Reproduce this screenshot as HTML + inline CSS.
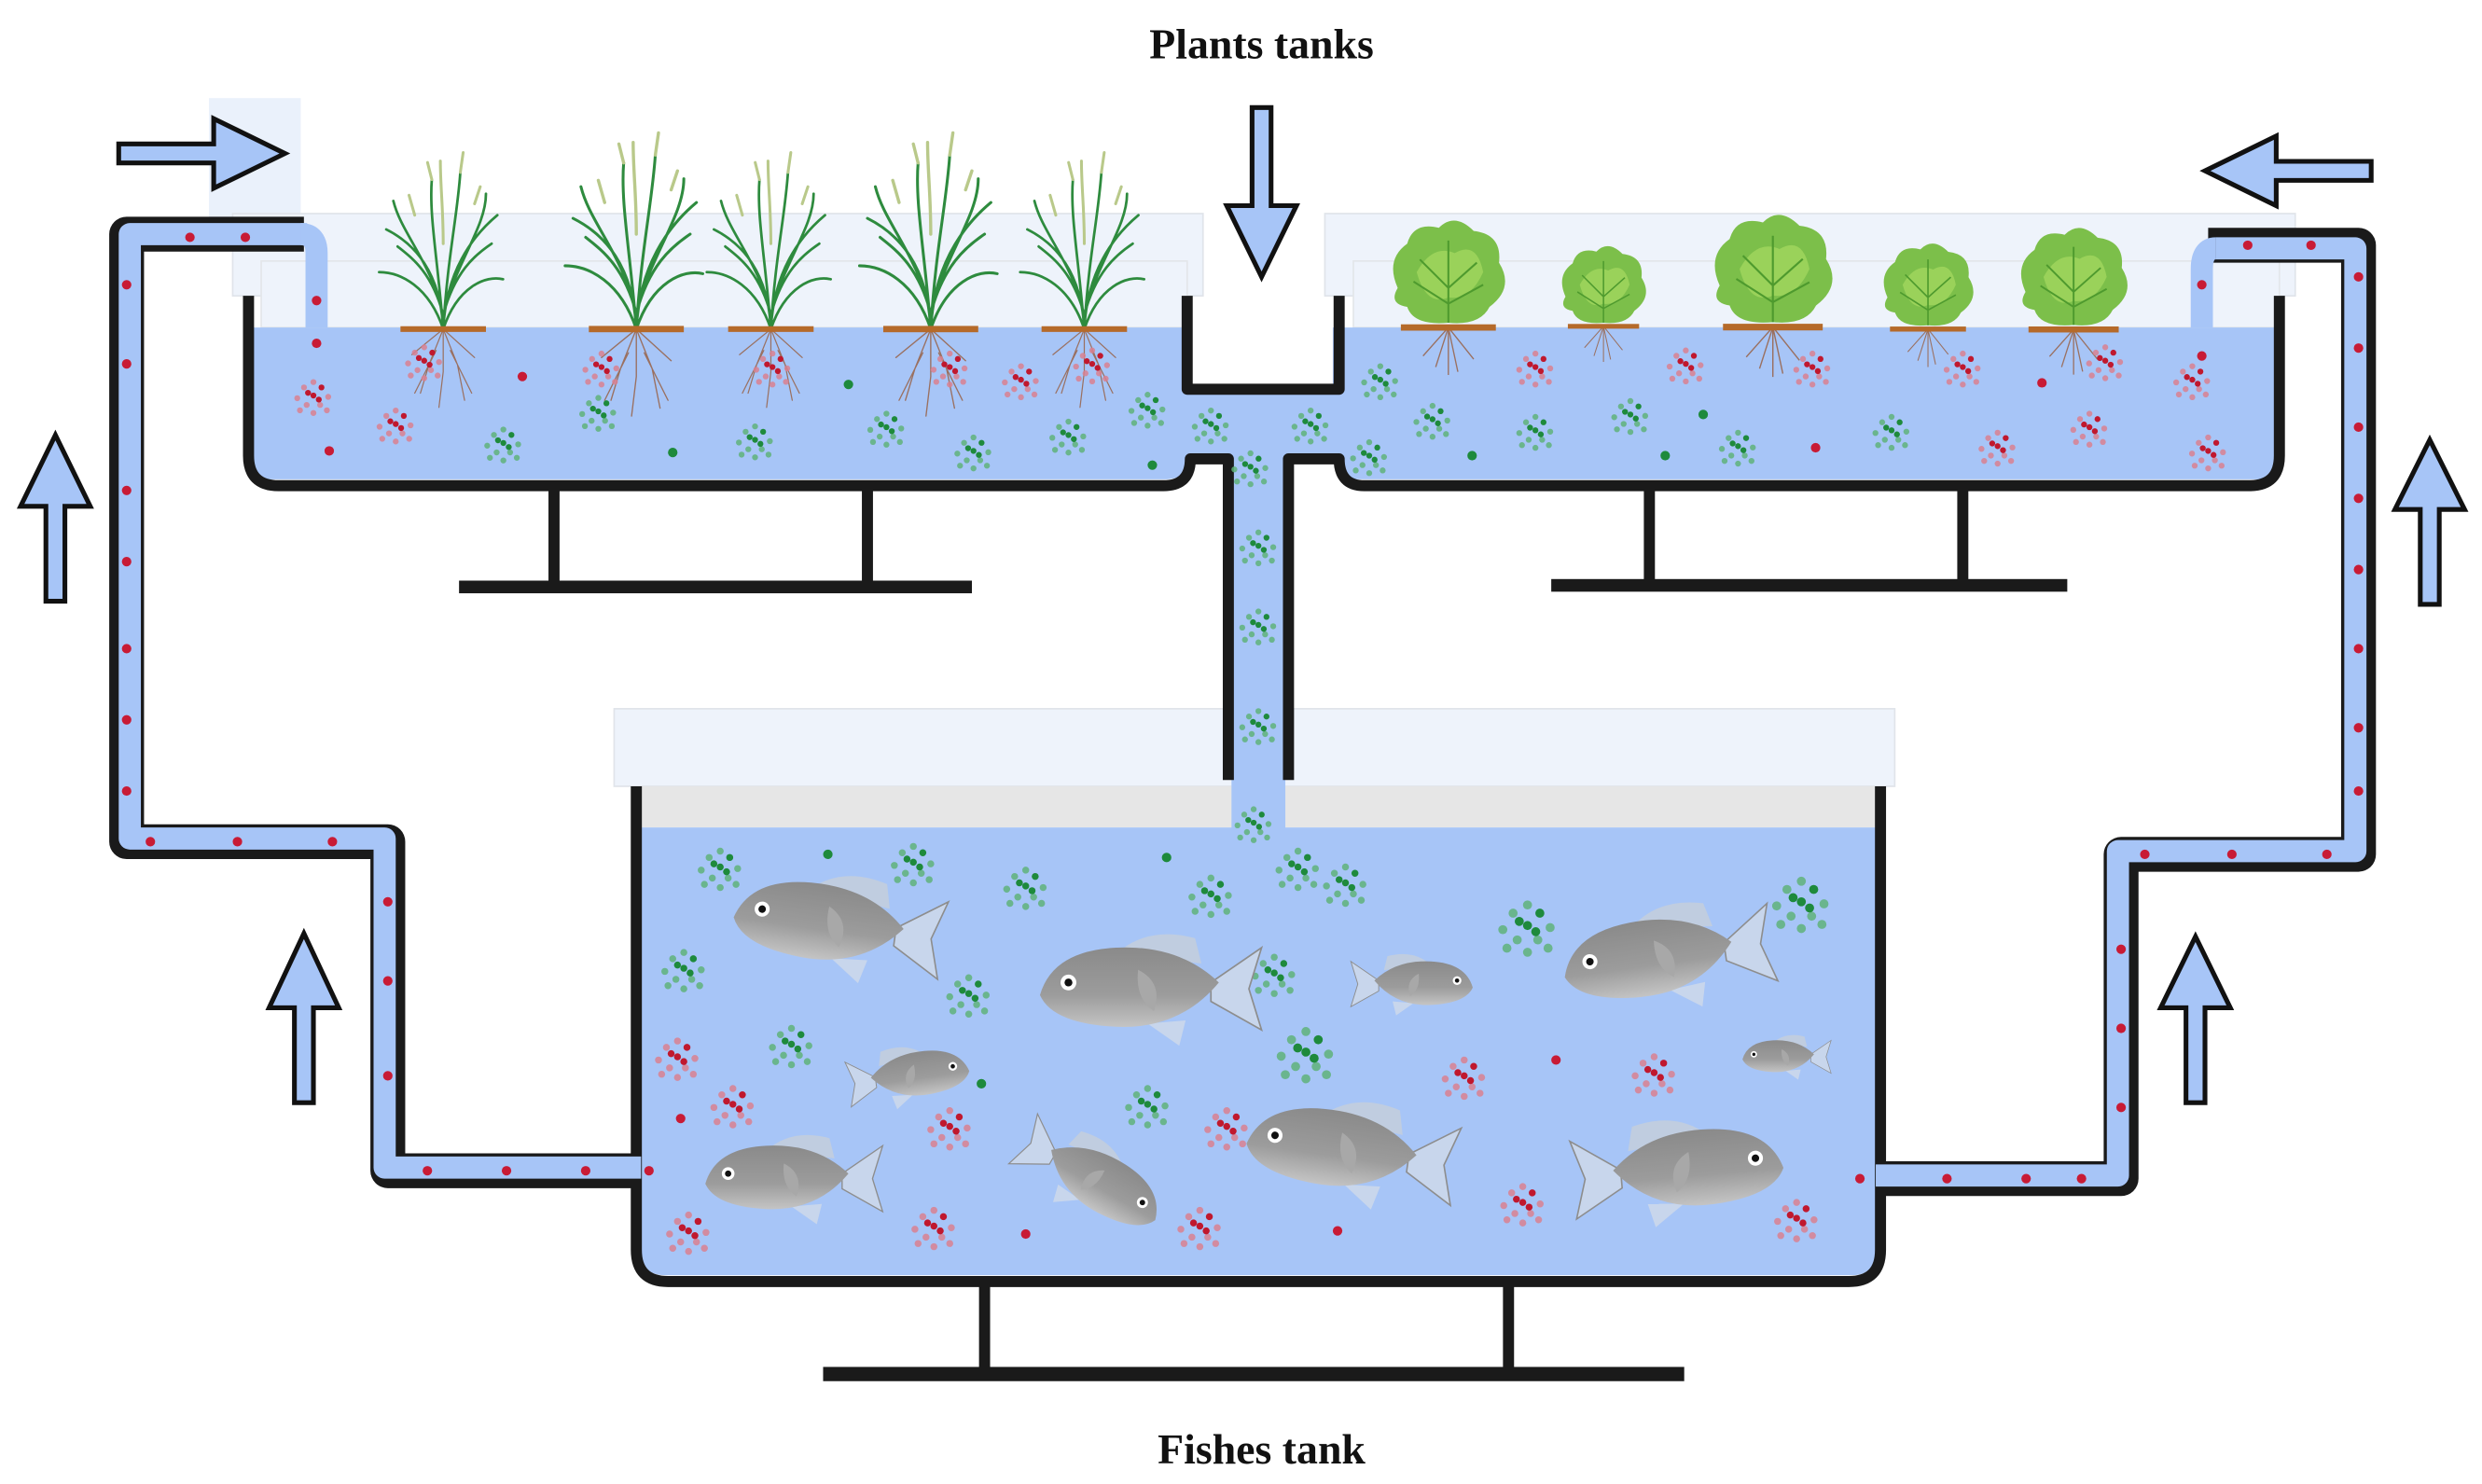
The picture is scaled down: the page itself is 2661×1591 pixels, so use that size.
<!DOCTYPE html>
<html><head><meta charset="utf-8"><style>
html,body{margin:0;padding:0;background:#fff;}
svg{display:block;}
</style></head><body>
<svg id="s" width="2661" height="1591" viewBox="0 0 1568 938" preserveAspectRatio="none" xmlns="http://www.w3.org/2000/svg">
<defs>
<linearGradient id="fg" x1="0" y1="0" x2="0" y2="1"><stop offset="0" stop-color="#8a8a8a"/><stop offset="0.6" stop-color="#9c9c9c"/><stop offset="1" stop-color="#c4c4c4"/></linearGradient>
<g id="fish">
<path d="M40,-4 L72,-26 L64,0 L72,26 L40,8 Z" fill="#c8d6ec" stroke="#8d8d8d" stroke-width="1"/>
<path d="M-20,-22 Q0,-40 30,-32 L34,-16 Z" fill="#c0cde0"/>
<path d="M0,22 L20,36 L24,20 Z" fill="#c8d6ec"/>
<path d="M-68,4 Q-60,-24 -20,-26 Q20,-28 45,-4 Q20,26 -20,24 Q-60,22 -68,4 Z" fill="url(#fg)"/>
<path d="M-6,-12 Q10,-4 4,14 Q-8,6 -6,-12 Z" fill="#a8a8a8"/>
<circle cx="-50" cy="-4" r="5" fill="#fff"/><circle cx="-50" cy="-4" r="2.5" fill="#111"/>
</g>
<g id="grass" fill="none" stroke-linecap="round">
<path d="M0,0 C-2,-40 -20,-60 -40,-70 M0,0 C2,-40 20,-65 38,-80 M0,0 C-4,-50 -10,-80 -8,-105 M0,0 C3,-50 10,-80 12,-110 M0,0 C-10,-30 -30,-40 -45,-40 M0,0 C10,-30 30,-38 42,-35 M-2,-20 C-15,-55 -30,-70 -35,-90 M2,-20 C15,-55 30,-75 30,-95 M0,-10 C-8,-40 -22,-50 -32,-58 M0,-10 C8,-40 22,-52 34,-60" stroke="#2e8b3e" stroke-width="1.8"/>
<path d="M-8,-105 l-3,-12 M12,-110 l2,-14 M0,-60 C0,-85 -2,-100 -2,-118 M-20,-80 l-4,-14 M22,-88 l4,-12" stroke="#b9c98a" stroke-width="2"/>
<path d="M0,0 l-10,25 l-6,20 M0,0 l10,25 l5,25 M0,0 l0,30 l-3,25 M0,0 l-22,18 M0,0 l22,20 M-5,15 l-15,30 M5,15 l15,30" stroke="#9a7060" stroke-width="0.8"/>
<rect x="-30" y="-2" width="60" height="4" fill="#b56a2a" stroke="none"/>
</g>
<g id="lettuce">
<path d="M0,35 l-8,25 M0,35 l6,28 M0,35 l0,30 M0,35 l-16,18 M0,35 l16,20" stroke="#9a7060" stroke-width="0.8" fill="none"/>
<rect x="-30" y="33" width="60" height="4" fill="#b56a2a"/>
<path d="M-32,10 Q-40,-8 -26,-18 Q-22,-32 -6,-28 Q4,-38 16,-26 Q34,-24 32,-6 Q42,10 26,22 Q20,34 0,32 Q-22,34 -26,22 Q-38,20 -32,10 Z" fill="#7cbf4a"/>
<path d="M-20,0 Q-10,-18 4,-12 Q18,-20 22,0 Q14,18 0,16 Q-14,22 -20,0 Z" fill="#9ad25a"/>
<path d="M0,32 L0,-20 M0,10 L-18,-8 M0,10 L18,-6 M0,20 L-22,6 M0,20 L22,8" stroke="#4e9a2e" stroke-width="1.2" fill="none"/>
</g>
</defs>

<text x="797" y="37" text-anchor="middle" font-family="Liberation Serif, serif" font-size="27" font-weight="bold" fill="#111">Plants tanks</text>
<text x="797" y="925" text-anchor="middle" font-family="Liberation Serif, serif" font-size="27" font-weight="bold" fill="#111">Fishes tank</text>

<rect x="132" y="62" width="58" height="80" fill="#eaf1fb"/>

<rect x="147" y="135" width="613" height="52" fill="#eef3fb" stroke="#e0e4ea"/>
<rect x="165" y="165" width="585" height="42" fill="#eef3fb" stroke="#e3e6ea"/>
<rect x="837" y="135" width="613" height="52" fill="#eef3fb" stroke="#e0e4ea"/>
<rect x="855" y="165" width="585" height="42" fill="#eef3fb" stroke="#e3e6ea"/>

<!-- fish tank lid (behind pipe) -->
<rect x="388" y="448" width="809" height="49" fill="#eef3fb" stroke="#e0e4ea"/>
<rect x="405" y="497" width="780" height="26" fill="#e6e6e6"/>

<path d="M158,207 H748 V248 H842 V207 H1438 V290 Q1438,303 1425,303 H860 Q845,303 845,292 H812 V525 H778 V292 H752 Q750,303 735,303 H172 Q158,303 158,290 Z" fill="#a7c5f7"/>

<g fill="none" stroke="#1a1a1a" stroke-width="7" stroke-linejoin="round">
<path d="M157,187 V288 Q157,307 176,307 H735 Q752,307 752,290 H776 V493"/>
<path d="M750,187 V246 H846 V187"/>
<path d="M1440,187 V288 Q1440,307 1421,307 H862 Q846,307 846,290 H814 V493"/>
</g>
<g stroke="#1a1a1a" stroke-width="7" fill="none">
<path d="M350,307 V370 M548,307 V370 M1042,307 V370 M1240,307 V370 M622,808 V866 M953,808 V866"/>
</g>
<rect x="290" y="367" width="324" height="8" fill="#1a1a1a"/>
<rect x="980" y="366" width="326" height="8" fill="#1a1a1a"/>
<rect x="520" y="864" width="544" height="9" fill="#1a1a1a"/>

<path d="M405,523 H1185 V790 Q1185,806 1170,806 H420 Q405,806 405,790 Z" fill="#a7c5f7"/>
<path d="M402,497 V790 Q402,810 422,810 H1168 Q1188,810 1188,790 V497" fill="none" stroke="#1a1a1a" stroke-width="7"/>

<g fill="none" stroke-linejoin="round">
<path d="M192,148 H80 V532 H245 V740 H405" stroke="#1a1a1a" stroke-width="22"/>
<path d="M194,148 H82 V530 H243 V738 H405" stroke="#a7c5f7" stroke-width="14"/>
<path d="M190,148 Q200,148 200,160 V207" stroke="#a7c5f7" stroke-width="14"/>
<path d="M1185,745 H1340 V540 H1490 V155 H1395" stroke="#1a1a1a" stroke-width="22"/>
<path d="M1185,743 H1338 V538 H1488 V157 H1400" stroke="#a7c5f7" stroke-width="14"/>
<path d="M1400,157 Q1391,157 1391,170 V207" stroke="#a7c5f7" stroke-width="14"/>
</g>

<g fill="#a7c5f7" stroke="#111" stroke-width="3" stroke-linejoin="miter">
<path d="M75,91 H135 V75 L180,97 L135,119 V103 H75 Z"/>
<path d="M1498,102 H1438 V86 L1393,108 L1438,130 V114 H1498 Z"/>
<path d="M791,68 V130 H775 L797,175 L819,130 H803 V68 Z"/>
<path d="M29,380 V320 H13 L35,275 L57,320 H41 V380 Z"/>
<path d="M186,697 V637 H170 L192,590 L214,637 H198 V697 Z"/>
<path d="M1529,382 V322 H1513 L1535,278 L1557,322 H1541 V382 Z"/>
<path d="M1381,697 V637 H1365 L1387,592 L1409,637 H1393 V697 Z"/>
</g>

<g id="dyn"></g>
</svg>
<script>
(function(){
var NS="http://www.w3.org/2000/svg",g=document.getElementById('dyn');
function el(n,a){var e=document.createElementNS(NS,n);for(var k in a)e.setAttribute(k,a[k]);g.appendChild(e);return e;}
function cluster(x,y,c,s){s=s||1;
 var pts=[[0,-10],[-7,-6],[6,-6],[-12,2],[0,0],[11,1],[-5,7],[5,7],[-10,11],[0,13],[10,11],[-4,-2],[4,3]];
 pts.forEach(function(p,i){var dark=(i==4||i==11||i==12||i==2);
  el('circle',{cx:x+p[0]*s,cy:y+p[1]*s,r:2.2*s,fill:c=='r'?(dark?'#c0182e':'#d98090'):(dark?'#1e8a3c':'#5fb27a'),opacity:dark?1:0.85});});}
function dot(x,y,c){el('circle',{cx:x,cy:y,r:3,fill:c=='r'?'#c81b35':'#1e8a3c'});}
[[155,150],[120,150],[200,190],[200,217],[80,180],[80,230],[80,310],[80,355],[80,410],[80,455],[80,500],[95,532],[150,532],[210,532],[245,570],[245,620],[245,680],[270,740],[320,740],[370,740],[410,740],
 [1175,745],[1230,745],[1280,745],[1315,745],[1340,700],[1340,650],[1340,600],[1355,540],[1410,540],[1470,540],[1490,500],[1490,460],[1490,410],[1490,360],[1490,315],[1490,270],[1490,220],[1490,175],[1460,155],[1420,155],[1391,180],[1391,225]].forEach(function(p){dot(p[0],p[1],'r');});
[280,402,487,588,685].forEach(function(x,i){el('use',{href:'#grass',transform:'translate('+x+',208) scale('+(i==1||i==3?1:0.9)+')'});});
[[915,172,1],[1013,180,0.75],[1120,170,1.05],[1218,180,0.8],[1310,175,0.95]].forEach(function(p){el('use',{href:'#lettuce',transform:'translate('+p[0]+','+(p[1])+') scale('+p[2]+')'})});
[[198,250,'r'],[250,268,'r'],[268,228,'r'],[380,232,'r'],[488,232,'r'],[600,232,'r'],[645,240,'r'],[690,230,'r'],
 [318,280,'g'],[378,260,'g'],[477,278,'g'],[560,270,'g'],[615,285,'g'],[675,275,'g'],[725,258,'g'],[765,268,'g'],[790,295,'g'],[828,268,'g'],[795,345,'g'],[795,395,'g'],[795,458,'g'],[792,520,'g'],
 [872,240,'g'],[905,265,'g'],[970,272,'g'],[1030,262,'g'],[1098,282,'g'],[1195,272,'g'],[865,288,'g'],
 [970,232,'r'],[1065,230,'r'],[1145,232,'r'],[1240,232,'r'],[1330,228,'r'],[1385,240,'r'],[1262,282,'r'],[1320,270,'r'],[1395,285,'r']].forEach(function(c){cluster(c[0],c[1],c[2],0.85);});
[[330,238,'r'],[208,285,'r'],[536,243,'g'],[425,286,'g'],[728,294,'g'],[1076,262,'g'],[930,288,'g'],[1052,288,'g'],[1147,283,'r'],[1290,242,'r']].forEach(function(d){dot(d[0],d[1],d[2]);});
[[455,548,'g'],[577,545,'g'],[648,560,'g'],[765,565,'g'],[820,548,'g'],[850,558,'g'],[432,612,'g'],[612,628,'g'],[500,660,'g'],[725,698,'g'],[805,615,'g'],[825,665,'g'],[965,585,'g'],[1138,570,'g'],
 [428,668,'r'],[463,698,'r'],[600,712,'r'],[775,712,'r'],[925,680,'r'],[1045,678,'r'],[435,778,'r'],[590,775,'r'],[758,775,'r'],[962,760,'r'],[1135,770,'r']].forEach(function(c){cluster(c[0],c[1],c[2],c[2]=='g'&&(c[0]==965||c[0]==1138||c[0]==825)?1.3:1);});
[[523,540,'g'],[737,542,'g'],[620,685,'g'],[983,670,'r'],[430,707,'r'],[845,778,'r'],[648,780,'r']].forEach(function(d){dot(d[0],d[1],d[2]);});
[[528,585,0.95,0,8],[725,625,1.0,0,0],[893,622,0.55,1,0],[1052,605,0.95,0,-8],[1128,668,0.4,0,0],[575,680,0.55,1,-8],[500,745,0.8,0,0],[690,745,0.7,1,30],[852,728,0.95,0,8],[1062,740,0.95,1,-5]].forEach(function(f){
 el('use',{href:'#fish',transform:'translate('+f[0]+','+f[1]+') rotate('+f[4]+') scale('+(f[3]?-f[2]:f[2])+','+f[2]+')'});});
})();
</script>
</body></html>
